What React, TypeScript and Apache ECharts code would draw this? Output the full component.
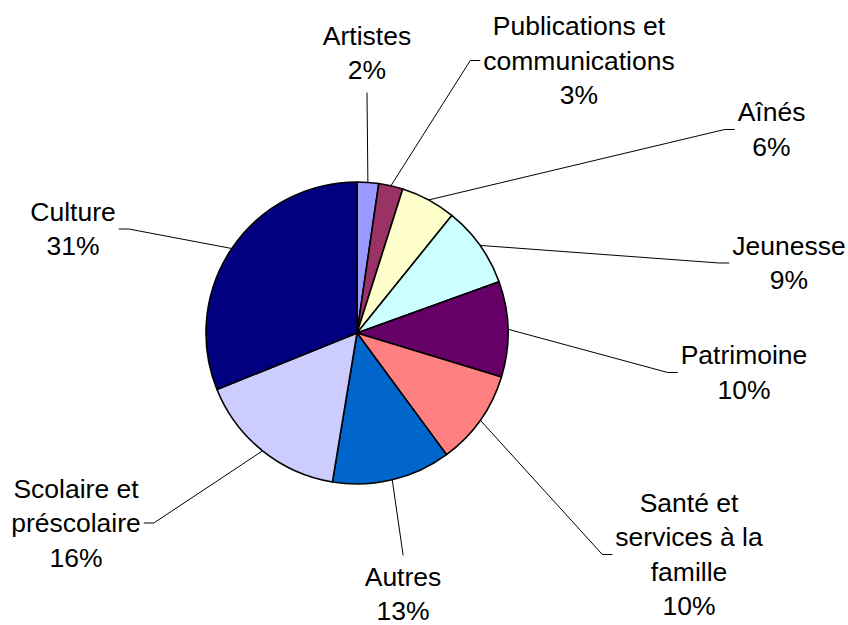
import React, { useEffect, useRef } from "react";
import * as echarts from "echarts";

const categories = [
  "Artistes",
  "Publications et\ncommunications",
  "Aînés",
  "Jeunesse",
  "Patrimoine",
  "Santé et\nservices à la\nfamille",
  "Autres",
  "Scolaire et\npréscolaire",
  "Culture",
];
const values = [2.3, 2.6, 5.9, 8.7, 10.2, 10.2, 12.7, 16.3, 31.1];
const colors = [
  "#9999FF",
  "#993366",
  "#FFFFCC",
  "#CCFFFF",
  "#660066",
  "#FF8080",
  "#0066CC",
  "#CCCCFF",
  "#000080",
];
// label block centre and the side the leader line attaches to
const labelPlacement: [number, number, string][] = [
  [367, 53, "bottom"],
  [579, 60.5, "left"],
  [771.5, 129.5, "left"],
  [789, 263, "left"],
  [744, 372.5, "left"],
  [689, 554.5, "left"],
  [403, 594, "top"],
  [76, 523, "right"],
  [73, 229, "right"],
];

const CX = 357;
const CY = 333;
const R = 151;

export default function App() {
  const ref = useRef<HTMLDivElement>(null);
  useEffect(() => {
    document.body.style.margin = "0";
    if (!ref.current) return;
    const chart = echarts.init(ref.current, undefined, { renderer: "svg" });
    const total = values.reduce((a, b) => a + b, 0);
    const arcMid = (i: number) => {
      let cum = 0;
      for (let k = 0; k < i; k++) cum += values[k];
      const th = (2 * Math.PI * (cum + values[i] / 2)) / total;
      return [CX + R * Math.sin(th), CY - R * Math.cos(th)];
    };
    chart.setOption({
      animation: false,
      backgroundColor: "#ffffff",
      series: [
        {
          type: "pie",
          center: [CX, CY],
          radius: R,
          startAngle: 90,
          clockwise: true,
          avoidLabelOverlap: false,
          data: categories.map((name, i) => ({
            name,
            value: values[i],
            itemStyle: { color: colors[i] },
          })),
          itemStyle: { borderColor: "#000000", borderWidth: 1.6 },
          label: {
            show: true,
            position: "outside",
            color: "#000000",
            fontFamily: "'Liberation Sans', Arial, sans-serif",
            fontSize: 26.5,
            lineHeight: 34.5,
            align: "center",
            formatter: (p: any) => `${p.name}\n${Math.round(p.percent)}%`,
          },
          labelLine: {
            show: true,
            smooth: false,
            lineStyle: { color: "#000000", width: 1 },
          },
          emphasis: { disabled: true },
          labelLayout: (params: any) => {
            const i = params.dataIndex;
            const [x, y, side] = labelPlacement[i];
            const w = params.labelRect.width;
            const h = params.labelRect.height;
            const mid = arcMid(i);
            let p1: number[];
            let p2: number[];
            if (side === "left") {
              p2 = [x - w / 2 - 3, y];
              p1 = [p2[0] - 10, y];
            } else if (side === "right") {
              p2 = [x + w / 2 + 3, y];
              p1 = [p2[0] + 10, y];
            } else if (side === "bottom") {
              p2 = [x, y + h / 2 + 5];
              p1 = [x, p2[1] + 1];
            } else {
              p2 = [x, y - h / 2 - 4];
              p1 = [x, p2[1] - 1];
            }
            return {
              x,
              y,
              align: "center",
              verticalAlign: "middle",
              labelLinePoints: [mid, p1, p2],
            };
          },
        },
      ],
    });
    return () => chart.dispose();
  }, []);
  return <div ref={ref} style={{ width: 848, height: 625 }} />;
}
